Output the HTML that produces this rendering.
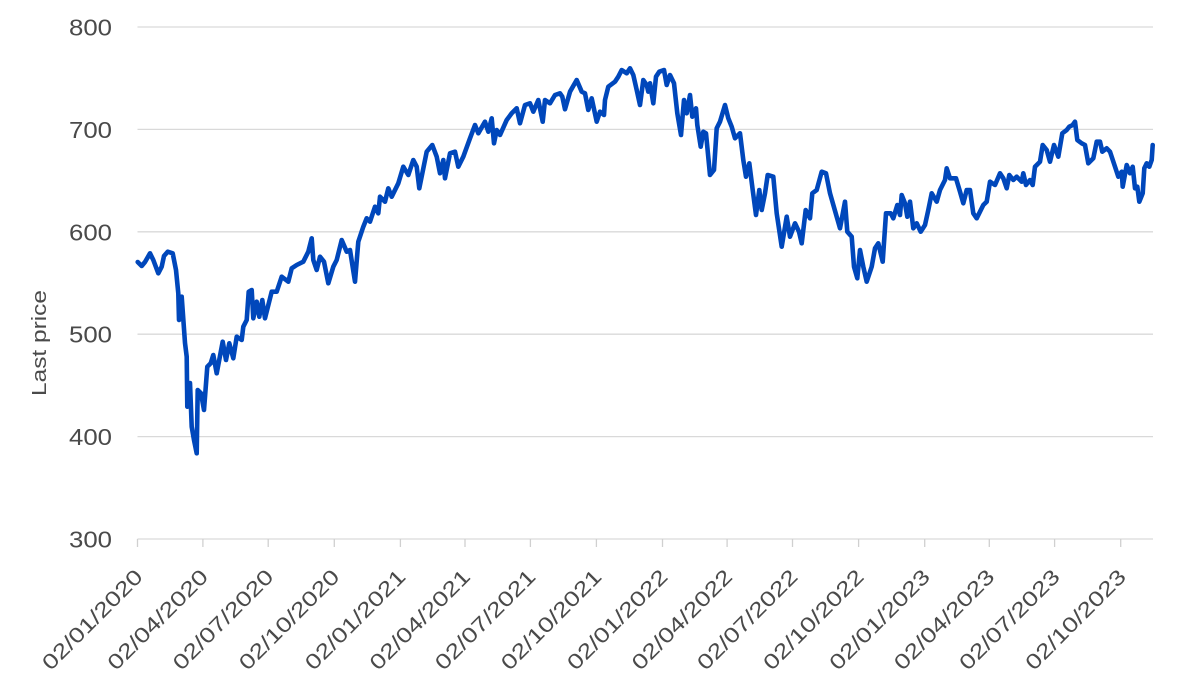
<!DOCTYPE html>
<html>
<head>
<meta charset="utf-8">
<style>
  html, body { margin: 0; padding: 0; background: #ffffff; }
  body { width: 1200px; height: 693px; overflow: hidden; }
  svg { display: block; }
  text { font-family: "Liberation Sans", sans-serif; fill: #4a4a4a; }
</style>
</head>
<body>
<svg width="1200" height="693" viewBox="0 0 1200 693" xmlns="http://www.w3.org/2000/svg">
  <g stroke="#d9d9d9" stroke-width="1.3">
    <line x1="137.5" y1="27" x2="1153" y2="27"/>
    <line x1="137.5" y1="129.4" x2="1153" y2="129.4"/>
    <line x1="137.5" y1="231.8" x2="1153" y2="231.8"/>
    <line x1="137.5" y1="334.2" x2="1153" y2="334.2"/>
    <line x1="137.5" y1="436.6" x2="1153" y2="436.6"/>
    <line x1="137.5" y1="539" x2="1153" y2="539"/>
  </g>
  <g stroke="#d0d0d0" stroke-width="1.3">
    <line x1="137.5" y1="539" x2="137.5" y2="547"/>
    <line x1="202.9" y1="539" x2="202.9" y2="547"/>
    <line x1="268.2" y1="539" x2="268.2" y2="547"/>
    <line x1="334.3" y1="539" x2="334.3" y2="547"/>
    <line x1="400.4" y1="539" x2="400.4" y2="547"/>
    <line x1="465" y1="539" x2="465" y2="547"/>
    <line x1="530.4" y1="539" x2="530.4" y2="547"/>
    <line x1="596.4" y1="539" x2="596.4" y2="547"/>
    <line x1="662.5" y1="539" x2="662.5" y2="547"/>
    <line x1="727.1" y1="539" x2="727.1" y2="547"/>
    <line x1="792.5" y1="539" x2="792.5" y2="547"/>
    <line x1="858.6" y1="539" x2="858.6" y2="547"/>
    <line x1="924.7" y1="539" x2="924.7" y2="547"/>
    <line x1="989.3" y1="539" x2="989.3" y2="547"/>
    <line x1="1054.6" y1="539" x2="1054.6" y2="547"/>
    <line x1="1120.7" y1="539" x2="1120.7" y2="547"/>
  </g>
  <g font-size="23" text-anchor="end">
    <text x="112" y="35.5" textLength="43" lengthAdjust="spacingAndGlyphs">800</text>
    <text x="112" y="137.9" textLength="43" lengthAdjust="spacingAndGlyphs">700</text>
    <text x="112" y="240.3" textLength="43" lengthAdjust="spacingAndGlyphs">600</text>
    <text x="112" y="342.7" textLength="43" lengthAdjust="spacingAndGlyphs">500</text>
    <text x="112" y="445.1" textLength="43" lengthAdjust="spacingAndGlyphs">400</text>
    <text x="112" y="547.5" textLength="43" lengthAdjust="spacingAndGlyphs">300</text>
  </g>
  <text x="0" y="0" font-size="20" text-anchor="middle" transform="translate(46,343) rotate(-90)" textLength="106" lengthAdjust="spacingAndGlyphs">Last price</text>
  <g font-size="21" text-anchor="end">
    <text transform="translate(144,578) rotate(-45)" textLength="132" lengthAdjust="spacingAndGlyphs">02/01/2020</text>
    <text transform="translate(209.4,578) rotate(-45)" textLength="132" lengthAdjust="spacingAndGlyphs">02/04/2020</text>
    <text transform="translate(274.7,578) rotate(-45)" textLength="132" lengthAdjust="spacingAndGlyphs">02/07/2020</text>
    <text transform="translate(340.8,578) rotate(-45)" textLength="132" lengthAdjust="spacingAndGlyphs">02/10/2020</text>
    <text transform="translate(406.9,578) rotate(-45)" textLength="132" lengthAdjust="spacingAndGlyphs">02/01/2021</text>
    <text transform="translate(471.5,578) rotate(-45)" textLength="132" lengthAdjust="spacingAndGlyphs">02/04/2021</text>
    <text transform="translate(536.9,578) rotate(-45)" textLength="132" lengthAdjust="spacingAndGlyphs">02/07/2021</text>
    <text transform="translate(602.9,578) rotate(-45)" textLength="132" lengthAdjust="spacingAndGlyphs">02/10/2021</text>
    <text transform="translate(669,578) rotate(-45)" textLength="132" lengthAdjust="spacingAndGlyphs">02/01/2022</text>
    <text transform="translate(733.6,578) rotate(-45)" textLength="132" lengthAdjust="spacingAndGlyphs">02/04/2022</text>
    <text transform="translate(799,578) rotate(-45)" textLength="132" lengthAdjust="spacingAndGlyphs">02/07/2022</text>
    <text transform="translate(865.1,578) rotate(-45)" textLength="132" lengthAdjust="spacingAndGlyphs">02/10/2022</text>
    <text transform="translate(931.2,578) rotate(-45)" textLength="132" lengthAdjust="spacingAndGlyphs">02/01/2023</text>
    <text transform="translate(995.8,578) rotate(-45)" textLength="132" lengthAdjust="spacingAndGlyphs">02/04/2023</text>
    <text transform="translate(1061.1,578) rotate(-45)" textLength="132" lengthAdjust="spacingAndGlyphs">02/07/2023</text>
    <text transform="translate(1127.2,578) rotate(-45)" textLength="132" lengthAdjust="spacingAndGlyphs">02/10/2023</text>
  </g>
  <polyline fill="none" stroke="#0047bb" stroke-width="4.6" stroke-linejoin="round" stroke-linecap="round" points="
137.7,262 141.7,266 145,262 150,253.3 153.3,260 158.3,273.3 161.7,266.7 164,256 167.7,251.7 172.7,253.3 176,270 178.3,293.3 179,320 181.7,296.7 185,343 186.7,356.7 187.3,406.7 190,383 191.7,426.7 194,440 196.7,453.3 197.7,390 201,393.3 204,410 207.3,366.7 210.7,363.3 213.3,355 216.7,373.3 222.7,341.7 226,360 229.3,343.3 233.3,358.3 236.7,336.7 241.7,340 243.3,326.7 246.7,320 248.7,291.7 251.7,290 253.3,318.3 256.7,301.7 259.3,316.7 262.3,300 265,318.3 271.7,291.7 276.7,291.7 281.7,276.7 288.3,281.7 291.7,268.3 296.7,265 303.3,261.7 308.3,251.7 311.7,238.3 313.3,260 316.7,270 320,256.7 324,261.7 328.3,283.3 333.3,266.7
336.7,260 341.7,240 346.7,251.7 350,250 355,281.7 358.3,241.7 363.3,226.7 366.7,218.3 370,221.7 375,206.7 378.3,213.3 380,196.7 385,201.7 388.3,188.3 391.7,196.7 398.3,183.3 403.3,166.7 408.3,175 413.3,160 416.7,166.7 419.3,188.3 426.7,151.7 432.3,145 436.7,156.7 440,173.3 443.3,160 445,178.3 450,153.3 455,151.7 458.3,166.7 463.3,156.7 470,138.3 475,125 478.3,133.3 485,121.7 488.3,131.7 491.7,118.3 494,143.3 496.7,130 500,135 506.7,120 511.7,113.3 516.7,108.3 520,123.3 525,105 530,103.3 533.3,111.7 538.3,100 542.7,121.7 545,100 550,103.3 555,95 560,93.3 562.3,96.7 565,109.3 570,91.7 576.7,80 581.7,91.7 585,93.3 588.3,110 591.7,98.3 596.7,121.7 600,111.7 604,115
605,100 608.3,86.7 615,81.7 618.3,76.7 621.7,70 626.7,73.3 630,68.3 633.3,75 636.7,90 640,105 643.3,80 646.7,85 648.3,91.7 650,83.3 653.3,103.3 656,76.7 659.3,71.7 664,70 666.7,85 670,75 674,83.3 677.3,113.3 681,135 684,100 686.7,113.3 690,95 692.3,116.7 696,108.3 697.3,125 700.7,146.7 703.3,131.7 706,133.3 710,175 714,170 716.7,128.3 720,121.7 725,105 728.3,118.3 731.7,126.7 735,138.3 740,133.3 743.3,160 746,176.7 749.3,163.3 752.7,190 756,215 759.3,190 761.7,210 765,193.3 767.7,175 773.3,176.7 776.7,213.3 781.7,246.7 786.7,216.7 790,236.7 795,223.3 799,231.7 801.7,243.3 805.7,210 810,218.3 812.3,193.3 816.7,190 821.7,171.7 826,173.3 830,193.3 836.7,216.7 840,228.3 845,201.7 847.3,231.7 851.7,236.7 854,266.7 857.3,278.3 860,250 863.3,266.7 866.7,281.7 871.7,266.7 875,248.3 878.3,243.3 882.7,261.7 886,213.3 890.7,213.3 893.3,218.3 897.3,205 900,215
901.7,195 905,203.3 907.3,216.7 910,201.7 913.3,228.3 916.7,223.3 920.7,231.7 925,225 928.3,210 931.7,193.3 936.7,201.7 940,190 945,180 946.7,168.3 950,178.3 956,178.3 960,191.7 963.3,203.3 966.7,190 970,190 973.3,213.3 976.7,218.3 983.3,205 986.7,201.7 990,181.7 995,185 1000,173.3 1003.3,178.3 1006.7,188.3 1009.3,175 1013.3,180 1016.7,176.7 1021.7,181.7 1023.3,173.3 1026,185 1030,180 1032.7,185 1035,166.7 1040,161.7 1042.7,145 1046.7,150 1050,161.7 1054,145 1058.3,156.7 1062.3,133.3 1066.7,130 1069.3,126.7 1072.7,125 1075,121.7 1077.3,140 1081.7,143.3 1085,145 1088.3,163.3 1093.3,158.3 1096.7,141.7 1100,141.7 1102.3,151.7 1106.7,148.3 1110,151.7 1115,166.7 1118.3,176.7 1121.7,171.7 1122.7,186.7 1126.7,165 1130,173.3 1132.7,166.7 1135,188.3 1137.3,186.7 1139.3,201.7 1142.7,193.3 1144.3,168.3 1146.7,163.3 1149.3,166.7 1151.7,160 1152.7,145"/>
</svg>
</body>
</html>
